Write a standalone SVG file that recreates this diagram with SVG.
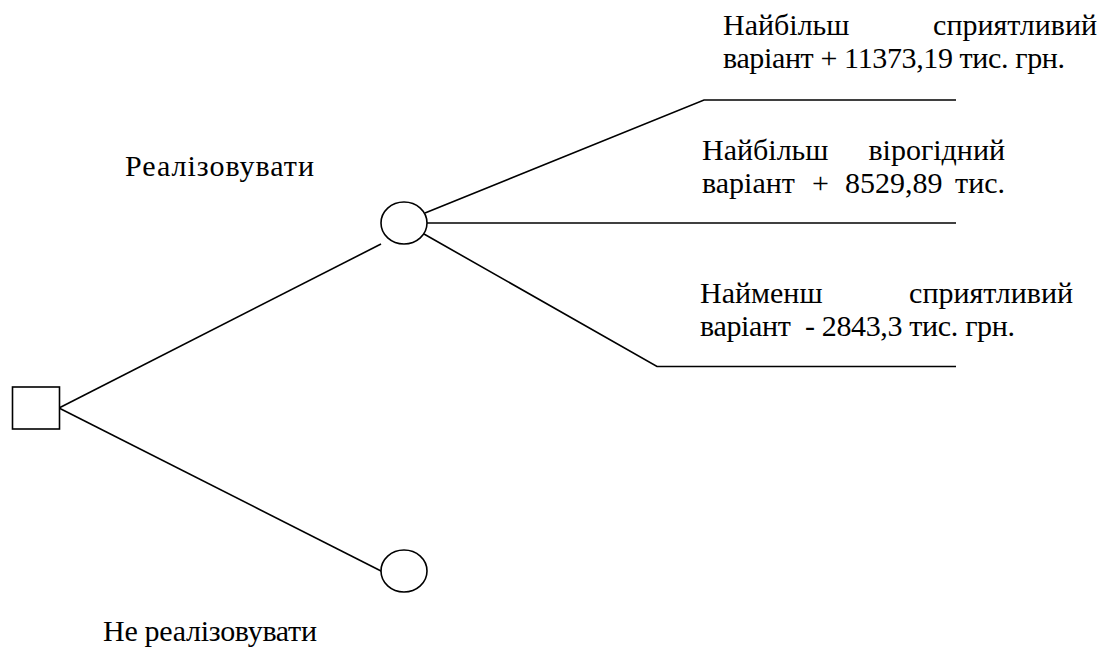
<svg xmlns="http://www.w3.org/2000/svg" width="1108" height="648" viewBox="0 0 1108 648">
<style>
.ln{stroke:#000;stroke-width:1.6;fill:none}
.nd{stroke:#000;stroke-width:1.6;fill:#fff}
text{font-family:'Liberation Serif','Times New Roman',Times,serif;font-size:30px;fill:#000}
.e{text-anchor:end}
</style>
<rect width="1108" height="648" fill="#fff"/>
<g id="connectors">
<line class="ln" x1="59" y1="408" x2="381" y2="244"/>
<line class="ln" x1="59" y1="408" x2="383" y2="572"/>
<polyline class="ln" points="425,213 704,100 956,100"/>
<line class="ln" x1="427" y1="223" x2="956" y2="223"/>
<polyline class="ln" points="424,234 657,366.5 956,366.5"/>
</g>
<g id="decision"><rect class="nd" x="12.5" y="387" width="47" height="42"/></g>
<g id="chance1"><ellipse class="nd" cx="404" cy="223" rx="23" ry="21"/></g>
<g id="chance2"><ellipse class="nd" cx="404" cy="571" rx="23" ry="21"/></g>
<g id="label-realize"><text x="125" y="176" textLength="189" lengthAdjust="spacing">Реалізовувати</text></g>
<g id="label-not"><text x="103" y="641" textLength="214" lengthAdjust="spacing">Не реалізовувати</text></g>
<g id="outcome1">
<text x="723" y="35">Найбільш</text><text class="e" x="1097" y="35">сприятливий</text>
<text x="723" y="68" textLength="342" lengthAdjust="spacing">варіант + 11373,19 тис. грн.</text>
</g>
<g id="outcome2">
<text x="702" y="160">Найбільш</text><text class="e" x="1005" y="160">вірогідний</text>
<text x="702" y="193">варіант</text><text x="812" y="193">+</text><text x="845" y="193">8529,89</text><text class="e" x="1005" y="193">тис.</text>
</g>
<g id="outcome3">
<text x="700" y="303">Найменш</text><text class="e" x="1073" y="303">сприятливий</text>
<text x="700" y="336" xml:space="preserve" textLength="315" lengthAdjust="spacing">варіант  - 2843,3 тис. грн.</text>
</g>
</svg>
